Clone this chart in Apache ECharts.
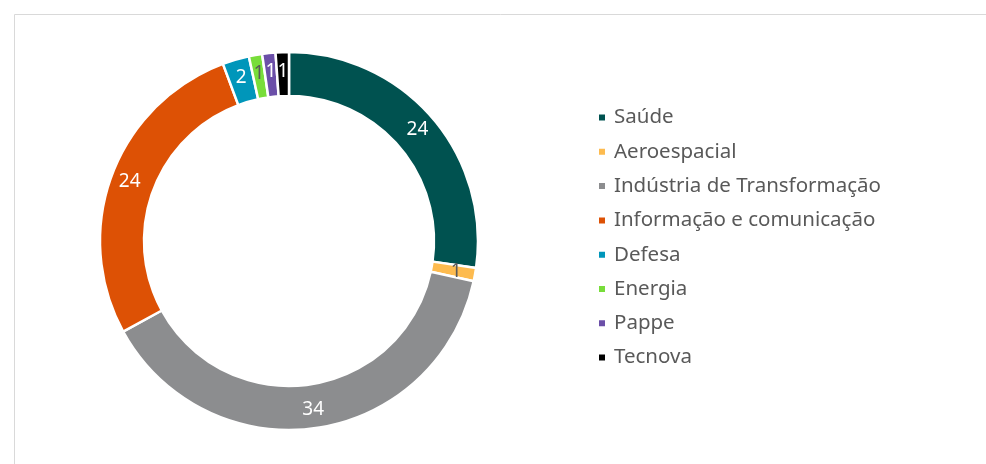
<!DOCTYPE html>
<html>
<head>
<meta charset="utf-8">
<script src="https://cdn.jsdelivr.net/npm/echarts@6/dist/echarts.min.js"></script>
<style>
  html, body { margin: 0; padding: 0; background: #fff; }
  #chart { width: 986px; height: 464px; }
</style>
</head>
<body>
<div id="chart"></div>
<script>
// setores e valores
const setores = ['Saúde', 'Aeroespacial', 'Indústria de Transformação', 'Informação e comunicação', 'Defesa', 'Energia', 'Pappe', 'Tecnova']
const valores = [24, 1, 34, 24, 2, 1, 1, 1]
const cores = ['#005250', '#FDBB4F', '#8C8D8F', '#DD5105', '#0096BA', '#78DD3A', '#6B4FA8', '#000000']
const corRotulo = ['#fff', '#595959', '#fff', '#fff', '#fff', '#595959', '#fff', '#fff']

const chart = echarts.init(document.getElementById('chart'))

const dados = setores.map((nome, i) => ({
  name: nome,
  value: valores[i],
  itemStyle: { color: cores[i] },
  label: { color: corRotulo[i] }
}))

chart.setOption({
  animation: false,
  graphic: [{
    type: 'rect',
    shape: { x: 14.5, y: 14.5, width: 1000, height: 500 },
    style: { fill: 'none', stroke: '#d9d9d9', lineWidth: 1 }
  }],
  legend: {
    orient: 'vertical',
    left: 592,
    top: 102,
    icon: 'rect',
    itemWidth: 8,
    itemHeight: 8,
    itemGap: 13.3,
    textStyle: { fontFamily: 'Noto Sans', fontSize: 20.5, lineHeight: 20, color: '#595959', padding: [0, 0, 0, 3] },
    data: setores
  },
  series: [{
    type: 'pie',
    center: [289, 241],
    radius: [145, 189],
    startAngle: 90,
    clockwise: true,
    avoidLabelOverlap: false,
    itemStyle: { borderColor: '#fff', borderWidth: 2.5 },
    label: {
      show: true,
      position: 'inside',
      formatter: '{c}',
      fontFamily: 'Noto Sans',
      fontSize: 19
    },
    labelLine: { show: false },
    emphasis: { disabled: true },
    data: dados
  }]
})
</script>
</body>
</html>
